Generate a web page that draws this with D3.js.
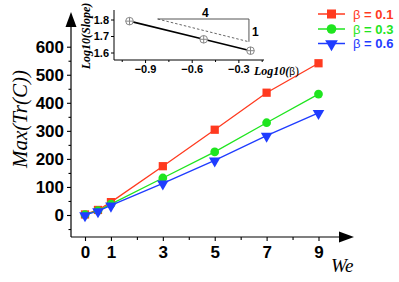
<!DOCTYPE html>
<html>
<head>
<meta charset="utf-8">
<script src="https://cdn.jsdelivr.net/npm/d3@7"></script>
<style>
body { margin: 0; background: #fff; }
svg text { font-family: "Liberation Sans", Arial, sans-serif; }
</style>
</head>
<body>
<div id="chart"></div>
<script>
// data
var we = [0, 0.5, 1, 3, 5, 7, 9];
var tr01 = [2, 18, 46, 174, 304, 436, 541];
var tr03 = [1, 16, 39, 132, 225, 329, 431];
var tr06 = [0, 14, 34, 113, 195, 283, 364];
var betas = ["0.1", "0.3", "0.6"];
var colors = ["#ff3a1f", "#1fe51f", "#1f3cff"];
var xTicks = [0, 1, 3, 5, 7, 9];
var xMinor = [2, 4, 6, 8];
var yTicks = [0, 100, 200, 300, 400, 500, 600];
var yMinor = [-50, 50, 150, 250, 350, 450, 550];

// inset data
var logBeta = [-1.0, -0.523, -0.222];
var logSlope = [1.79, 1.68, 1.611];
var insetXTicks = [-0.9, -0.6, -0.3];
var insetXMinor = [-1.05, -0.75, -0.45, -0.15];
var insetYTicks = [1.6, 1.7, 1.8];
var guideX = [-0.819, -0.232];
var guideY = [1.803, 1.665];

var SANS = "'Liberation Sans', Arial, sans-serif";
var SERIF = "'Liberation Serif', 'Times New Roman', serif";

var width = 399, height = 282;
var svg = d3.select("#chart").append("svg")
    .attr("width", width).attr("height", height);

var x = d3.scaleLinear().domain([0, 9]).range([85, 318.5]);
var y = d3.scaleLinear().domain([0, 600]).range([215, 46.7]);

var axisX = 71, axisY = 237;

// axes lines + arrows
svg.append("line").attr("x1", axisX).attr("x2", axisX).attr("y1", axisY).attr("y2", 26)
    .attr("stroke", "#000").attr("stroke-width", 1.2);
svg.append("path").attr("d", "M" + (axisX - 5.5) + ",27 L" + (axisX + 5.5) + ",27 L" + axisX + ",12 Z");
svg.append("line").attr("x1", axisX).attr("x2", 340).attr("y1", axisY).attr("y2", axisY)
    .attr("stroke", "#000").attr("stroke-width", 1.2);
svg.append("path").attr("d", "M339," + (axisY - 5.5) + " L339," + (axisY + 5.5) + " L354," + axisY + " Z");

// y ticks
var yAxis = d3.axisLeft(y).tickValues(yTicks).tickSize(4).tickPadding(3);
var gy = svg.append("g").attr("transform", "translate(" + axisX + ",0)").call(yAxis);
gy.select(".domain").remove();
gy.selectAll("text").attr("font-size", 17).attr("font-weight", "bold")
    .style("font-family", SANS);
svg.append("g").attr("transform", "translate(" + axisX + ",0)")
    .call(d3.axisLeft(y).tickValues(yMinor).tickSize(2.5).tickFormat(""))
    .select(".domain").remove();

// x ticks
var xAxis = d3.axisBottom(x).tickValues(xTicks).tickSize(4).tickPadding(5);
var gx = svg.append("g").attr("transform", "translate(0," + axisY + ")").call(xAxis);
gx.select(".domain").remove();
gx.selectAll("text").attr("font-size", 17).attr("font-weight", "bold")
    .style("font-family", SANS);
svg.append("g").attr("transform", "translate(0," + axisY + ")")
    .call(d3.axisBottom(x).tickValues(xMinor).tickSize(3).tickFormat(""))
    .select(".domain").remove();
svg.selectAll(".tick line").attr("stroke-width", 1.1);

// axis titles
svg.append("text")
    .style("font-family", SERIF).style("font-style", "italic")
    .attr("transform", "translate(27,119) rotate(-90)")
    .attr("text-anchor", "middle").attr("font-size", 21)
    .text("Max(Tr(C))");
svg.append("text")
    .style("font-family", SERIF).style("font-style", "italic")
    .attr("x", 331).attr("y", 272).attr("font-size", 19)
    .text("We");

// series
var series = [tr01, tr03, tr06];
var line = d3.line().x(function(d, i){ return x(we[i]); }).y(function(d){ return y(d); });
var symbols = [d3.symbolSquare, d3.symbolCircle, d3.symbolTriangle];
var symSize = [68, 60, 58];

function drawSymbol(g, k, cx, cy, scale) {
    var p = g.append("path")
        .attr("d", d3.symbol().type(symbols[k]).size(symSize[k] * (scale || 1)))
        .attr("fill", colors[k]);
    if (k == 2) {
        p.attr("transform", "translate(" + cx + "," + (cy + 0.5) + ") rotate(180)");
    } else {
        p.attr("transform", "translate(" + cx + "," + cy + ")");
    }
}

for (var k = 0; k < series.length; k++) {
    svg.append("path").datum(series[k])
        .attr("d", line).attr("fill", "none")
        .attr("stroke", colors[k]).attr("stroke-width", 1.3);
}
for (var k = 0; k < series.length; k++) {
    var gs = svg.append("g");
    for (var i = 0; i < we.length; i++) {
        drawSymbol(gs, k, x(we[i]), y(series[k][i]));
    }
}

// legend
var legY = [14, 29, 43.5];
for (var k = 0; k < betas.length; k++) {
    svg.append("line").attr("x1", 318).attr("x2", 345)
        .attr("y1", legY[k]).attr("y2", legY[k])
        .attr("stroke", colors[k]).attr("stroke-width", 1.5);
    drawSymbol(svg, k, 331.5, legY[k], 1.2);
    var t = svg.append("text").attr("x", 353).attr("y", legY[k] + 4.5)
        .attr("font-size", 13).attr("fill", colors[k]);
    t.append("tspan").text("β");
    t.append("tspan").attr("font-weight", "bold").text(" = " + betas[k]);
}

// inset
var ix = d3.scaleLinear().domain([-1.0, -0.222]).range([129.5, 250.5]);
var iy = d3.scaleLinear().domain([1.6, 1.8]).range([52.5, 19.5]);
var inset = svg.append("g");
var ix0 = 114, iy0 = 60;
inset.append("line").attr("x1", ix0).attr("x2", ix0).attr("y1", 10).attr("y2", iy0)
    .attr("stroke", "#000").attr("stroke-width", 1);
inset.append("line").attr("x1", ix0).attr("x2", 264).attr("y1", iy0).attr("y2", iy0)
    .attr("stroke", "#000").attr("stroke-width", 1);

var giy = inset.append("g").attr("transform", "translate(" + ix0 + ",0)")
    .call(d3.axisLeft(iy).tickValues(insetYTicks).tickSize(3).tickPadding(2).tickFormat(d3.format(".1f")));
giy.select(".domain").remove();
giy.selectAll("text").attr("font-size", 11).attr("font-weight", "bold")
    .style("font-family", SANS);

var gix = inset.append("g").attr("transform", "translate(0," + iy0 + ")")
    .call(d3.axisBottom(ix).tickValues(insetXTicks).tickSize(3).tickPadding(2).tickFormat(d3.format(".1f")));
gix.select(".domain").remove();
gix.selectAll("text").attr("font-size", 11).attr("font-weight", "bold")
    .style("font-family", SANS);
inset.append("g").attr("transform", "translate(0," + iy0 + ")")
    .call(d3.axisBottom(ix).tickValues(insetXMinor).tickSize(2).tickFormat(""))
    .select(".domain").remove();

// slope guide
inset.append("path")
    .attr("d", "M" + ix(guideX[0]) + "," + iy(guideY[0]) + " L" + ix(guideX[1]) + "," + iy(guideY[0]) +
        " L" + ix(guideX[1]) + "," + iy(guideY[1]))
    .attr("fill", "none").attr("stroke", "#555").attr("stroke-width", 1);
inset.append("line")
    .attr("x1", ix(guideX[0])).attr("y1", iy(guideY[0]))
    .attr("x2", ix(guideX[1])).attr("y2", iy(guideY[1]))
    .attr("stroke", "#555").attr("stroke-width", 0.9).attr("stroke-dasharray", "2.5,2");
inset.append("text").attr("x", (ix(guideX[0]) + ix(guideX[1])) / 2 + 2).attr("y", 17)
    .attr("text-anchor", "middle").attr("font-size", 12).attr("font-weight", "bold").text("4");
inset.append("text").attr("x", ix(guideX[1]) + 3).attr("y", 35.5)
    .attr("font-size", 12).attr("font-weight", "bold").text("1");

var iline = d3.line().x(function(d, i){ return ix(logBeta[i]); }).y(function(d){ return iy(d); });
inset.append("path").datum(logSlope).attr("d", iline)
    .attr("fill", "none").attr("stroke", "#000").attr("stroke-width", 1.6);
logSlope.forEach(function(d, i){
    var cx = ix(logBeta[i]), cy = iy(d);
    inset.append("circle").attr("cx", cx).attr("cy", cy).attr("r", 3.8)
        .attr("fill", "#fff").attr("stroke", "#888").attr("stroke-width", 1);
    inset.append("path").attr("d", "M" + (cx - 3.8) + "," + cy + "H" + (cx + 3.8) + "M" + cx + "," + (cy - 3.8) + "V" + (cy + 3.8))
        .attr("stroke", "#888").attr("stroke-width", 1);
});

inset.append("text")
    .style("font-family", SERIF).style("font-style", "italic")
    .attr("transform", "translate(90,36) rotate(-90)")
    .attr("text-anchor", "middle").attr("font-size", 12).attr("font-weight", "bold")
    .text("Log10(Slope)");
var lb = inset.append("text")
    .style("font-family", SERIF).style("font-style", "italic")
    .attr("x", 254).attr("y", 75).attr("font-size", 12).attr("font-weight", "bold");
lb.append("tspan").text("Log10(");
lb.append("tspan").style("font-style", "normal").attr("font-weight", "normal")
    .style("font-family", SANS).attr("font-size", 10).text("β");
lb.append("tspan").style("font-style", "normal").attr("font-weight", "normal").text(")");
</script>
</body>
</html>
